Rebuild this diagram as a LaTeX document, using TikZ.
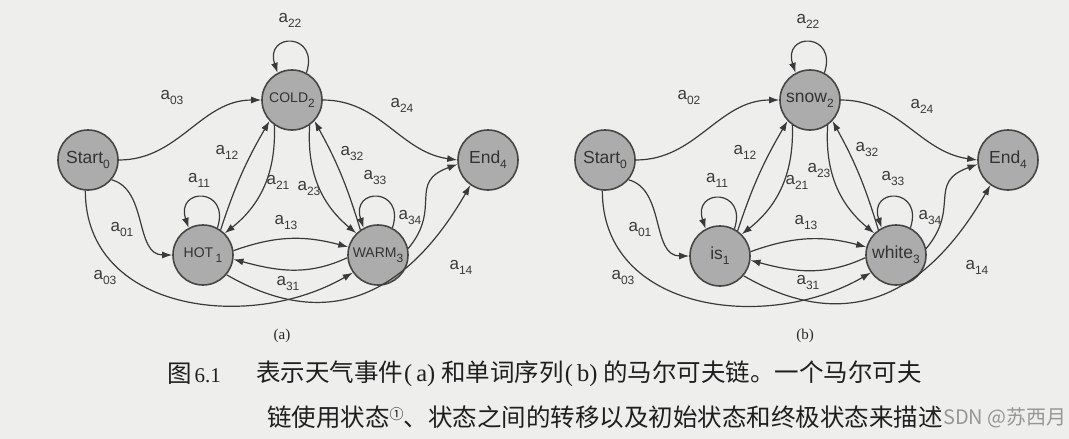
\documentclass[tikz,border=0pt]{standalone}
\usepackage{fontspec}
\setmainfont{Liberation Sans}
\newfontfamily\cjk{Noto Sans CJK SC}
\newfontfamily\bookserif{Liberation Serif}
\usetikzlibrary{arrows.meta,positioning}

\definecolor{paper}{RGB}{238,238,236}
\definecolor{statefill}{RGB}{172,172,172}
\definecolor{rim}{RGB}{70,70,70}
\definecolor{ink}{RGB}{58,58,58}
\definecolor{wmgray}{RGB}{150,150,150}

\newcommand\lsub[1]{\raisebox{-5pt}{\fontsize{12}{12}\selectfont #1}}
\newcommand\trans[1]{a\lsub{#1}}

\begin{document}
\begin{tikzpicture}[
  x=1pt, y=1pt,
  state/.style={circle, draw=rim, line width=1.6pt, fill=statefill, minimum size=60pt,
    inner sep=0pt, text=black!80, font=\fontsize{17.5}{17.5}\selectfont},
  capstate/.style={state, font=\fontsize{14}{14}\selectfont},
  arr/.style={-{Latex[length=10pt,width=7pt]}, draw=ink, line width=1.2pt},
  selfloop/.style={arr, out=72, in=108, looseness=3.8},
  lbl/.style={inner sep=0pt, text=ink, font=\fontsize{17}{17}\selectfont},
  sublbl/.style={inner sep=0pt, text=black!85, font=\bookserif\fontsize{15}{15}\selectfont},
  capline/.style={inner sep=0pt, anchor=west, text=black!88, font=\cjk\fontsize{24.5}{24.5}\selectfont}
]
\fill[paper] (0,0) rectangle (1069,-439);
\useasboundingbox (0,0) rectangle (1069,-439);

% (a) weather events
\node[state] (starta) at (88,-160) {Start\lsub{0}};
\node[capstate] (cold) at (292,-100) {COLD\lsub{2}};
\node[capstate] (hot) at (203,-255) {HOT\,\lsub{1}};
\node[capstate] (warm) at (378,-255) {WARM\lsub{3}};
\node[state] (enda) at (488,-160) {End\lsub{4}};

\draw[arr] (starta.east) to[out=0,in=180] (cold.west);
\draw[arr] (cold.east) to[out=0,in=172] (enda.west);
\draw[arr] (starta.-40) to[out=-15,in=180] (hot.west);
\draw[arr] (starta.-95) to[out=-90,in=210,looseness=1.1] (warm.-145);
\draw[arr] (hot.-40) to[out=-30,in=240,looseness=1.2] (enda.-125);
\draw[arr] (hot.55) to[bend left=6] (cold.-137);
\draw[arr] (cold.-125) to[bend left=27] (hot.45);
\draw[arr] (cold.-55) to[bend right=27] (warm.135);
\draw[arr] (warm.125) to[bend right=6] (cold.-43);
\draw[arr] (hot.8) to[out=20,in=165] (warm.165);
\draw[arr] (warm.185) to[out=205,in=-15] (hot.-8);
\draw[arr] (warm.12) to[out=50,in=200,looseness=1.4] (enda.-172);
\draw[selfloop] (cold.62) to (cold.118);
\draw[selfloop] (hot.62) to (hot.118);
\draw[selfloop] (warm.62) to (warm.118);

\node[lbl] (la22) at (290,-20) {\trans{22}};
\node[lbl] (la03) at (172,-97) {\trans{03}};
\node[lbl] (la24) at (402,-105) {\trans{24}};
\node[lbl] (la12) at (227,-152) {\trans{12}};
\node[lbl] (la32) at (352,-153) {\trans{32}};
\node[lbl] (la11) at (199,-180) {\trans{11}};
\node[lbl] (la21) at (278,-182) {\trans{21}};
\node[lbl] (la23) at (309,-188) {\trans{23}};
\node[lbl] (la33) at (375,-177) {\trans{33}};
\node[lbl] (la01) at (122,-229) {\trans{01}};
\node[lbl] (la34) at (410,-217) {\trans{34}};
\node[lbl] (la13) at (286,-222) {\trans{13}};
\node[lbl] (la03b) at (105,-277) {\trans{03}};
\node[lbl] (la14) at (461,-267) {\trans{14}};
\node[lbl] (la31) at (288,-283) {\trans{31}};

% (b) word sequence
\node[state] (startb) at (605,-160) {Start\lsub{0}};
\node[state] (snow) at (810,-100) {snow\lsub{2}};
\node[state] (is) at (720,-256) {is\lsub{1}};
\node[state] (white) at (896,-255) {white\lsub{3}};
\node[state] (endb) at (1008,-160) {End\lsub{4}};

\draw[arr] (startb.east) to[out=0,in=180] (snow.west);
\draw[arr] (snow.east) to[out=0,in=172] (endb.west);
\draw[arr] (startb.-40) to[out=-15,in=180] (is.west);
\draw[arr] (startb.-95) to[out=-90,in=210,looseness=1.1] (white.-145);
\draw[arr] (is.-40) to[out=-30,in=240,looseness=1.2] (endb.-125);
\draw[arr] (is.55) to[bend left=6] (snow.-137);
\draw[arr] (snow.-125) to[bend left=27] (is.45);
\draw[arr] (snow.-55) to[bend right=27] (white.135);
\draw[arr] (white.125) to[bend right=6] (snow.-43);
\draw[arr] (is.8) to[out=20,in=165] (white.165);
\draw[arr] (white.185) to[out=205,in=-15] (is.-8);
\draw[arr] (white.12) to[out=50,in=200,looseness=1.4] (endb.-172);
\draw[selfloop] (snow.62) to (snow.118);
\draw[selfloop] (is.62) to (is.118);
\draw[selfloop] (white.62) to (white.118);

\node[lbl] (lb22) at (808,-21) {\trans{22}};
\node[lbl] (lb02) at (689,-97) {\trans{02}};
\node[lbl] (lb24) at (922,-106) {\trans{24}};
\node[lbl] (lb12) at (745,-152) {\trans{12}};
\node[lbl] (lb32) at (867,-149) {\trans{32}};
\node[lbl] (lb11) at (717,-180) {\trans{11}};
\node[lbl] (lb23) at (819,-170) {\trans{23}};
\node[lbl] (lb21) at (797,-182) {\trans{21}};
\node[lbl] (lb33) at (893,-178) {\trans{33}};
\node[lbl] (lb01) at (640,-229) {\trans{01}};
\node[lbl] (lb34) at (930,-217) {\trans{34}};
\node[lbl] (lb13) at (806,-222) {\trans{13}};
\node[lbl] (lb03) at (623,-277) {\trans{03}};
\node[lbl] (lb14) at (977,-267) {\trans{14}};
\node[lbl] (lb31) at (808,-282) {\trans{31}};

% sub-figure tags and caption
\node[sublbl] (tag a) at (282,-336) {(a)};
\node[sublbl] (tag b) at (805,-336) {(b)};
\node[capline] (capnum) at (167,-374) {图\hspace{3pt}{\bookserif\fontsize{21}{21}\selectfont 6.1}};
\node[capline] (cap1) at (256,-374) {表示天气事件{\bookserif\hspace{1pt}(\hspace{4pt}a)}\hspace{6pt}和单词序列{\bookserif\hspace{1pt}(\hspace{4pt}b)}\hspace{6pt}的马尔可夫链。一个马尔可夫};
\node[capline] (cap2) at (267,-417) {链使用状态\raisebox{7pt}{\fontsize{14}{14}\selectfont ①}、状态之间的转移以及初始状态和终极状态来描述};
\node[inner sep=0pt, anchor=west, text=wmgray, font=\cjk\fontsize{20}{20}\selectfont] (wm) at (943,-418) {SDN @苏西月};
\end{tikzpicture}
\end{document}
